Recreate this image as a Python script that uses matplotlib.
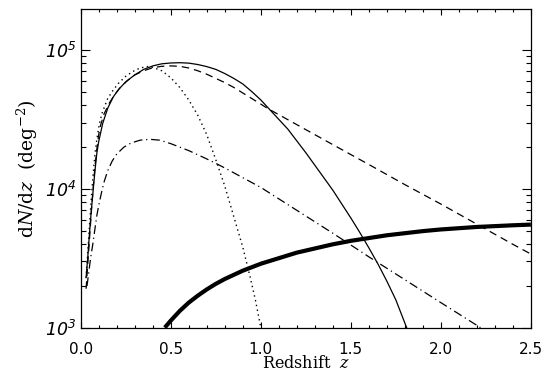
import numpy as np
import matplotlib
matplotlib.use('Agg')
import matplotlib.pyplot as plt
from matplotlib.ticker import MultipleLocator, LogLocator, FuncFormatter

plt.rcParams['mathtext.fontset'] = 'custom'
plt.rcParams['mathtext.rm'] = 'DejaVu Serif'
plt.rcParams['mathtext.it'] = 'DejaVu Serif:italic'
plt.rcParams['mathtext.sf'] = 'DejaVu Sans:italic'

# curves: redshift and log10(dN/dz)
z_solid = [0.03, 0.04, 0.05, 0.06, 0.07, 0.08, 0.09, 0.10, 0.122, 0.15, 0.18, 0.21, 0.25, 0.30,
           0.35, 0.40, 0.45, 0.50, 0.55, 0.60, 0.65, 0.70, 0.75, 0.80, 0.85, 0.90, 0.95, 1.0,
           1.05, 1.10, 1.15, 1.20, 1.25, 1.30, 1.35, 1.40, 1.45, 1.50, 1.55, 1.60, 1.65, 1.70,
           1.75, 1.81]
lg_solid = [3.36, 3.52, 3.70, 3.86, 4.0, 4.14, 4.26, 4.34, 4.47, 4.58, 4.66, 4.715, 4.77, 4.82,
            4.86, 4.885, 4.90, 4.906, 4.908, 4.905, 4.895, 4.88, 4.86, 4.83, 4.795, 4.755, 4.70, 4.64,
            4.57, 4.50, 4.43, 4.345, 4.26, 4.17, 4.08, 3.99, 3.89, 3.79, 3.685, 3.575, 3.46, 3.335,
            3.20, 3.0]

z_dot = [0.03, 0.04, 0.05, 0.06, 0.07, 0.08, 0.09, 0.104, 0.12, 0.15, 0.18, 0.21, 0.25, 0.29,
         0.33, 0.37, 0.40, 0.45, 0.50, 0.55, 0.60, 0.65, 0.70, 0.75, 0.80, 0.85, 0.90, 0.94,
         0.97, 1.0]
lg_dot = [3.36, 3.56, 3.76, 3.95, 4.12, 4.26, 4.36, 4.47, 4.55, 4.65, 4.71, 4.76, 4.81, 4.845,
          4.87, 4.88, 4.875, 4.85, 4.80, 4.73, 4.64, 4.53, 4.39, 4.21, 4.02, 3.80, 3.58, 3.37,
          3.2, 3.0]

z_dash = [0.03, 0.04, 0.05, 0.06, 0.07, 0.08, 0.09, 0.10, 0.111, 0.13, 0.16, 0.19, 0.22, 0.26,
          0.30, 0.35, 0.40, 0.45, 0.50, 0.55, 0.60, 0.65, 0.70, 0.75, 0.80, 0.85, 0.90, 0.95,
          1.0, 1.04, 1.2, 1.4, 1.6, 1.8, 2.0, 2.2, 2.4, 2.5]
lg_dash = [3.28, 3.47, 3.66, 3.85, 4.02, 4.17, 4.29, 4.39, 4.46, 4.54, 4.62, 4.68, 4.73, 4.78,
           4.82, 4.85, 4.872, 4.882, 4.885, 4.882, 4.87, 4.85, 4.825, 4.795, 4.765, 4.73, 4.69, 4.65,
           4.61, 4.577, 4.462, 4.318, 4.175, 4.03, 3.89, 3.745, 3.60, 3.53]

z_dd = [0.035, 0.045, 0.055, 0.067, 0.08, 0.09, 0.10, 0.115, 0.13, 0.15, 0.175, 0.20, 0.24, 0.28,
        0.33, 0.385, 0.44, 0.50, 0.55, 0.60, 0.65, 0.70, 0.755, 0.80, 0.85, 0.90, 0.95, 1.0,
        1.2, 1.4, 1.6, 1.8, 2.0, 2.22]
lg_dd = [3.30, 3.40, 3.50, 3.60, 3.72, 3.81, 3.88, 3.97, 4.05, 4.13, 4.20, 4.25, 4.30, 4.33,
         4.35, 4.356, 4.35, 4.325, 4.30, 4.275, 4.245, 4.215, 4.18, 4.15, 4.115, 4.08, 4.045, 4.01,
         3.845, 3.68, 3.51, 3.345, 3.18, 3.0]

z_thick = [0.467, 0.50, 0.55, 0.60, 0.65, 0.70, 0.75, 0.80, 0.85, 0.90, 1.0, 1.1, 1.2, 1.3,
           1.4, 1.5, 1.6, 1.7, 1.8, 1.9, 2.0, 2.2, 2.4, 2.5]
lg_thick = [3.0, 3.05, 3.12, 3.18, 3.23, 3.275, 3.315, 3.35, 3.38, 3.41, 3.46, 3.50, 3.54, 3.57,
            3.60, 3.625, 3.645, 3.665, 3.68, 3.695, 3.707, 3.725, 3.737, 3.742]

fig = plt.figure(figsize=(5.49, 3.77), dpi=100)
ax = fig.add_axes([0.147, 0.131, 0.820, 0.845])

ax.plot(z_solid, 10**np.array(lg_solid), color='k', lw=0.9)
ax.plot(z_dot, 10**np.array(lg_dot), color='k', lw=1.0, linestyle=(0, (1, 2.5)))
ax.plot(z_dash, 10**np.array(lg_dash), color='k', lw=0.9, linestyle=(0, (6, 4)))
ax.plot(z_dd, 10**np.array(lg_dd), color='k', lw=0.9, linestyle=(0, (7, 3, 1, 3)))
ax.plot(z_thick, 10**np.array(lg_thick), color='k', lw=3.0, solid_capstyle='butt')

ax.set_yscale('log')
ax.set_xlim(0, 2.5)
ax.set_ylim(1e3, 1.97e5)

ax.xaxis.set_major_locator(MultipleLocator(0.5))
ax.xaxis.set_minor_locator(MultipleLocator(0.1))
ax.yaxis.set_major_locator(LogLocator(base=10, numticks=10))
ax.yaxis.set_minor_locator(LogLocator(base=10, subs=np.arange(2, 10), numticks=10))
ax.xaxis.set_major_formatter(FuncFormatter(lambda v, p: '%.1f' % v))
ax.yaxis.set_major_formatter(FuncFormatter(lambda v, p: r'$\mathsf{10^{%d}}$' % round(np.log10(v))))

ax.tick_params(axis='x', which='major', direction='in', length=4, width=0.8, top=True, labelsize=11, pad=10)
ax.tick_params(axis='x', which='minor', direction='in', length=2.2, width=0.8, top=True)
ax.tick_params(axis='y', which='major', direction='in', length=6.5, width=0.8, right=True, labelsize=12.5, pad=3)
ax.tick_params(axis='y', which='minor', direction='in', length=3.6, width=0.8, right=True)
for s in ax.spines.values():
    s.set_linewidth(0.9)

ax.set_xlabel(r'Redshift  $z$', fontsize=11.5, family='DejaVu Serif', labelpad=-1)
ax.set_ylabel(r'd$N$/d$z$  (deg$^{-2}$)', fontsize=13.5, family='DejaVu Serif', labelpad=4)

fig.savefig('out.png', dpi=100)
